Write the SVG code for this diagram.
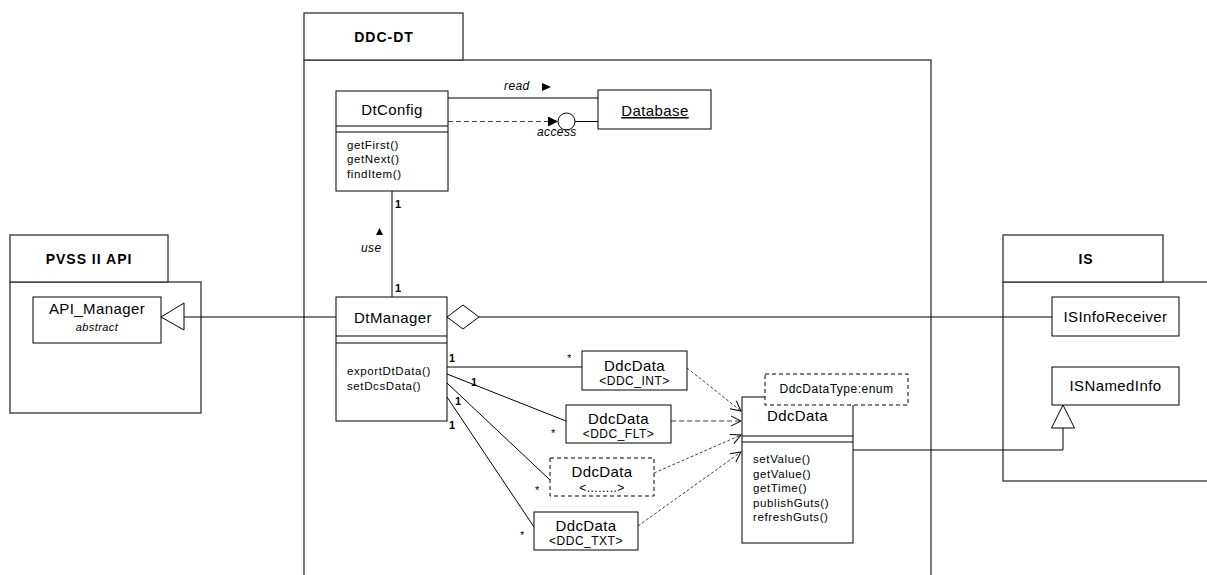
<svg xmlns="http://www.w3.org/2000/svg" width="1207" height="575" viewBox="0 0 1207 575">
  <style>
    text { font-family: "Liberation Sans", Arial, sans-serif; fill: #000; }
    .pkg { fill: #fff; stroke: #333; stroke-width: 1.3; }
    .box { fill: #fff; stroke: #000; stroke-width: 1; }
    .dbox { fill: #fff; stroke: #000; stroke-width: 1; stroke-dasharray: 4 3; }
    .ln { fill: none; stroke: #000; stroke-width: 1; }
    .dep { fill: none; stroke: #444; stroke-width: 1; stroke-dasharray: 3 2; }
    .dep2 { fill: none; stroke: #444; stroke-width: 1.2; stroke-dasharray: 5 3; }
    .ptitle { font-size: 14px; font-weight: bold; letter-spacing: 1px; text-anchor: middle; }
    .cname { font-size: 15px; letter-spacing: 0.4px; text-anchor: middle; }
    .tmpl { font-size: 12px; letter-spacing: 0.5px; text-anchor: middle; }
    .meth { font-size: 11.5px; letter-spacing: 0.6px; }
    .mult { font-size: 11px; font-weight: bold; }
    .star { font-size: 11px; }
    .role { font-size: 12px; font-style: italic; letter-spacing: 0.4px; }
    .stereo { font-size: 11px; font-style: italic; letter-spacing: 0.4px; text-anchor: middle; }
  </style>
  <defs>
    <marker id="open" viewBox="0 0 12 12" refX="11" refY="6" markerWidth="12" markerHeight="12" markerUnits="userSpaceOnUse" orient="auto">
      <path d="M1,1 L11,6 L1,11" fill="none" stroke="#000" stroke-width="1"/>
    </marker>
    <marker id="solid" viewBox="0 0 10 10" refX="10" refY="5" markerWidth="10" markerHeight="10" markerUnits="userSpaceOnUse" orient="auto">
      <path d="M0,0 L10,5 L0,10 Z" fill="#000"/>
    </marker>
  </defs>

  <!-- packages -->
  <g id="pkg-pvss">
    <rect class="pkg" x="10" y="282" width="191" height="131"/>
    <rect class="pkg" x="10" y="235" width="158" height="47"/>
    <text class="ptitle" x="89" y="264">PVSS II API</text>
  </g>
  <g id="pkg-ddcdt">
    <rect class="pkg" x="304" y="60" width="627" height="560"/>
    <rect class="pkg" x="304" y="13" width="159" height="47"/>
    <text class="ptitle" x="384" y="42">DDC-DT</text>
  </g>
  <g id="pkg-is">
    <rect class="pkg" x="1003" y="282" width="230" height="199"/>
    <rect class="pkg" x="1003" y="235" width="160" height="47"/>
    <text class="ptitle" x="1086" y="264">IS</text>
  </g>

  <!-- connectors -->
  <g id="connectors">
    <!-- DtConfig read Database -->
    <line class="ln" x1="448" y1="98" x2="598" y2="98"/>
    <text class="role" x="504" y="90">read</text>
    <path d="M542,83 L551,87 L542,91 Z" fill="#000"/>
    <!-- DtConfig access interface of Database -->
    <line class="dep2" x1="448" y1="121.5" x2="558" y2="121.5" marker-end="url(#solid)"/>
    <circle cx="566.5" cy="121.5" r="8.5" fill="#fff" stroke="#000" stroke-width="1"/>
    <line class="ln" x1="575" y1="121.5" x2="598" y2="121.5"/>
    <text class="role" x="537" y="136">access</text>
    <!-- DtConfig use DtManager -->
    <line class="ln" x1="392" y1="191" x2="392" y2="297"/>
    <text class="mult" x="395" y="208">1</text>
    <text class="mult" x="395" y="292">1</text>
    <path d="M376,235 L379.5,228 L383,235 Z" fill="#000"/>
    <text class="role" x="361" y="252">use</text>
    <!-- DtManager generalizes API_Manager -->
    <line class="ln" x1="184" y1="317" x2="336" y2="317"/>
    <path d="M161,317 L184,303 L184,330 Z" fill="#fff" stroke="#000" stroke-width="1"/>
    <!-- DtManager aggregation ISInfoReceiver -->
    <line class="ln" x1="479" y1="317" x2="1052" y2="317"/>
    <path d="M447,317 L463,305 L479,317 L463,329 Z" fill="#fff" stroke="#000" stroke-width="1"/>
    <!-- DtManager to DdcData instances -->
    <line class="ln" x1="447" y1="367" x2="582" y2="367"/>
    <line class="ln" x1="447" y1="374" x2="566" y2="421"/>
    <line class="ln" x1="447" y1="383" x2="550" y2="480"/>
    <line class="ln" x1="447" y1="397" x2="534" y2="527"/>
    <text class="mult" x="449" y="362">1</text>
    <text class="mult" x="471" y="386">1</text>
    <text class="mult" x="455" y="405">1</text>
    <text class="mult" x="449" y="429">1</text>
    <text class="star" x="567" y="362">*</text>
    <text class="star" x="551" y="437">*</text>
    <text class="star" x="535" y="494">*</text>
    <text class="star" x="520" y="539">*</text>
    <!-- instances depend on DdcData -->
    <line class="dep" x1="687" y1="368" x2="741" y2="411" marker-end="url(#open)"/>
    <line class="dep2" x1="671" y1="421" x2="741" y2="421" marker-end="url(#open)"/>
    <line class="dep" x1="654" y1="473" x2="741" y2="435" marker-end="url(#open)"/>
    <line class="dep" x1="638" y1="526" x2="741" y2="452" marker-end="url(#open)"/>
    <!-- DdcData generalizes ISNamedInfo -->
    <polyline class="ln" points="853,450 1063,450 1063,428"/>
    <path d="M1063,405 L1074.5,428 L1051.5,428 Z" fill="#fff" stroke="#000" stroke-width="1"/>
  </g>

  <!-- classes -->
  <g id="api-manager">
    <rect class="box" x="33" y="297" width="128" height="46"/>
    <text class="cname" x="97" y="314">API_Manager</text>
    <text class="stereo" x="97" y="331">abstract</text>
  </g>

  <g id="dtconfig">
    <rect class="box" x="336" y="91" width="112" height="100"/>
    <line class="ln" x1="336" y1="126" x2="448" y2="126"/>
    <line class="ln" x1="336" y1="132" x2="448" y2="132"/>
    <text class="cname" x="392" y="115">DtConfig</text>
    <text class="meth" x="347" y="149">getFirst()</text>
    <text class="meth" x="347" y="163">getNext()</text>
    <text class="meth" x="347" y="178">findItem()</text>
  </g>

  <g id="database">
    <rect class="box" x="598" y="90" width="113" height="39"/>
    <text class="cname" x="655" y="116" text-decoration="underline">Database</text>
  </g>

  <g id="dtmanager">
    <rect class="box" x="336" y="297" width="111" height="124"/>
    <line class="ln" x1="336" y1="336" x2="447" y2="336"/>
    <line class="ln" x1="336" y1="343" x2="447" y2="343"/>
    <text class="cname" x="393" y="323">DtManager</text>
    <text class="meth" x="347" y="375">exportDtData()</text>
    <text class="meth" x="347" y="390">setDcsData()</text>
  </g>

  <g id="ddcdata-int">
    <rect class="box" x="582" y="351" width="105" height="39"/>
    <text class="cname" x="634.5" y="371">DdcData</text>
    <text class="tmpl" x="634.5" y="385">&lt;DDC_INT&gt;</text>
  </g>

  <g id="ddcdata-flt">
    <rect class="box" x="566" y="405" width="105" height="38"/>
    <text class="cname" x="618.5" y="424">DdcData</text>
    <text class="tmpl" x="618.5" y="438">&lt;DDC_FLT&gt;</text>
  </g>

  <g id="ddcdata-other">
    <rect class="dbox" x="550" y="458" width="104" height="38"/>
    <text class="cname" x="602" y="477">DdcData</text>
    <text class="tmpl" x="602" y="492">&lt;........&gt;</text>
  </g>

  <g id="ddcdata-txt">
    <rect class="box" x="534" y="512" width="104" height="38"/>
    <text class="cname" x="586" y="531">DdcData</text>
    <text class="tmpl" x="586" y="545">&lt;DDC_TXT&gt;</text>
  </g>

  <g id="ddcdata">
    <rect class="box" x="742" y="397" width="111" height="146"/>
    <line class="ln" x1="742" y1="436" x2="853" y2="436"/>
    <line class="ln" x1="742" y1="442" x2="853" y2="442"/>
    <text class="cname" x="797.5" y="421">DdcData</text>
    <text class="meth" x="753" y="463">setValue()</text>
    <text class="meth" x="753" y="478">getValue()</text>
    <text class="meth" x="753" y="492">getTime()</text>
    <text class="meth" x="753" y="507">publishGuts()</text>
    <text class="meth" x="753" y="521">refreshGuts()</text>
  </g>

  <g id="ddcdatatype-note">
    <rect class="dbox" x="765" y="374" width="143" height="31"/>
    <text class="tmpl" x="836.5" y="393">DdcDataType:enum</text>
  </g>

  <g id="isinforeceiver">
    <rect class="box" x="1052" y="297" width="127" height="39"/>
    <text class="cname" x="1115.5" y="322">ISInfoReceiver</text>
  </g>

  <g id="isnamedinfo">
    <rect class="box" x="1052" y="367" width="127" height="38"/>
    <text class="cname" x="1115.5" y="391">ISNamedInfo</text>
  </g>
</svg>
